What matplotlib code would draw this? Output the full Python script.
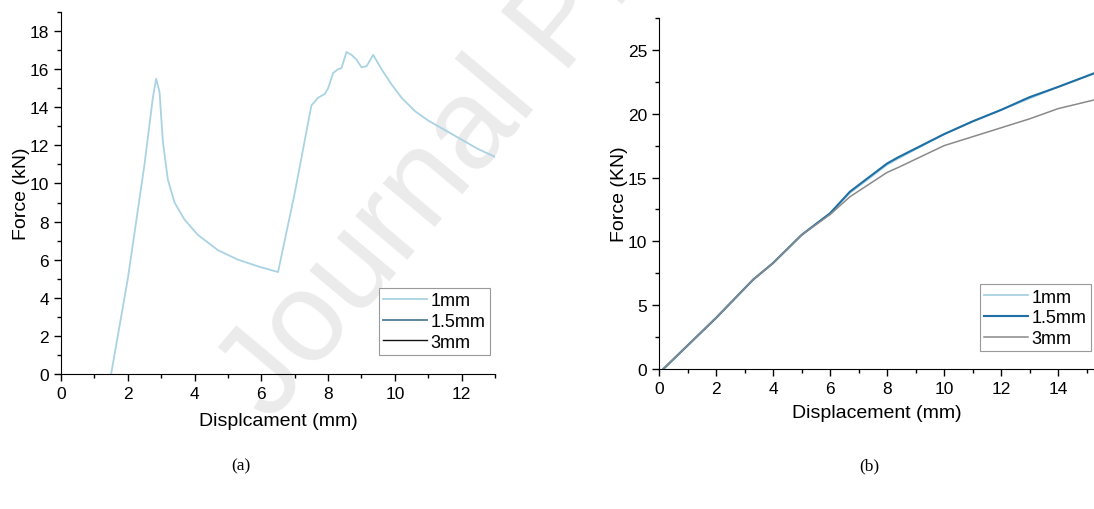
import numpy as np
import matplotlib.pyplot as plt
from matplotlib.ticker import MultipleLocator, AutoMinorLocator

plt.rcParams['font.family'] = ['Liberation Sans', 'DejaVu Sans']

# (a) force-displacement, only the 1mm curve is visible
disp_a = [1.5, 2.0, 2.5, 2.75, 2.85, 2.95, 3.05, 3.2, 3.4, 3.7, 4.1, 4.7, 5.3, 5.9, 6.5,
          7.0, 7.5, 7.7, 7.9, 8.0, 8.15, 8.3, 8.4, 8.55, 8.7, 8.85, 9.0, 9.15, 9.35,
          9.6, 9.9, 10.2, 10.6, 11.0, 11.5, 12.0, 12.5, 13.0]
force_a = [0.0, 5.0, 11.0, 14.5, 15.5, 14.8, 12.2, 10.2, 9.0, 8.1, 7.3, 6.5, 6.0, 5.65, 5.35,
           9.5, 14.1, 14.5, 14.7, 15.0, 15.8, 16.0, 16.05, 16.9, 16.75, 16.5, 16.1, 16.15, 16.75,
           16.0, 15.2, 14.5, 13.8, 13.3, 12.8, 12.3, 11.8, 11.4]

# (b) force-displacement for the three thicknesses
disp_b = [0.15, 2.0, 3.3, 4.0, 5.0, 6.0, 6.7, 8.0, 8.4, 10.0, 11.0, 12.0, 13.0, 14.0, 15.3]
force_1mm = [0.0, 4.0, 7.0, 8.3, 10.5, 12.2, 13.8, 16.0, 16.5, 18.4, 19.4, 20.3, 21.2, 22.1, 23.2]
force_15mm = [0.0, 4.0, 7.0, 8.3, 10.5, 12.2, 13.9, 16.1, 16.6, 18.4, 19.4, 20.3, 21.3, 22.1, 23.2]
force_3mm = [0.0, 4.0, 7.0, 8.3, 10.5, 12.1, 13.5, 15.4, 15.8, 17.5, 18.2, 18.9, 19.6, 20.4, 21.1]

labels = ['1mm', '1.5mm', '3mm']
colors_a = ['#a9d3e3', '#4f7d98', '#111111']
colors_b = ['#a9d3e3', '#1f6fa5', '#8a8a8a']

fig = plt.figure(figsize=(10.94, 5.10), dpi=100)

ax1 = fig.add_axes([0.0558, 0.2647, 0.3967, 0.7098])
ax2 = fig.add_axes([0.6024, 0.2745, 0.3976, 0.6882])

ax1.plot(disp_a, force_a, color=colors_a[0], lw=1.3, label=labels[0])
ax1.plot([], [], color=colors_a[1], lw=1.3, label=labels[1])
ax1.plot([], [], color=colors_a[2], lw=1.0, label=labels[2])
ax1.set_xlim(0, 13)
ax1.set_ylim(0, 19)
ax1.xaxis.set_major_locator(MultipleLocator(2))
ax1.yaxis.set_major_locator(MultipleLocator(2))
ax1.set_xlabel('Displcament (mm)', fontsize=14, labelpad=8)
ax1.set_ylabel('Force (kN)', fontsize=14, labelpad=0)

ax2.plot(disp_b, force_1mm, color=colors_b[0], lw=1.3, label=labels[0])
ax2.plot(disp_b, force_15mm, color=colors_b[1], lw=1.5, label=labels[1])
ax2.plot(disp_b, force_3mm, color=colors_b[2], lw=1.1, label=labels[2])
ax2.set_xlim(0, 15.26)
ax2.set_ylim(0, 27.5)
ax2.xaxis.set_major_locator(MultipleLocator(2))
ax2.yaxis.set_major_locator(MultipleLocator(5))
ax2.set_xlabel('Displacement (mm)', fontsize=14, labelpad=6)
ax2.set_ylabel('Force (KN)', fontsize=14, labelpad=0)

anchors = {ax1: (0.988, 0.052), ax2: (0.992, 0.05)}
for ax in (ax1, ax2):
    ax.spines['top'].set_visible(False)
    ax.spines['right'].set_visible(False)
    ax.xaxis.set_minor_locator(AutoMinorLocator(2))
    ax.yaxis.set_minor_locator(AutoMinorLocator(2))
    ax.tick_params(which='major', direction='out', length=5, width=1, labelsize=12.5)
    ax.tick_params(which='minor', direction='out', length=3, width=1)
    ax.patch.set_alpha(0)
    leg = ax.legend(loc='lower right', bbox_to_anchor=anchors[ax], fontsize=13,
                    handlelength=2.4, fancybox=False, framealpha=1, edgecolor='#999999',
                    borderpad=0.25, labelspacing=0.2, handletextpad=0.2, borderaxespad=0)
    leg.get_frame().set_linewidth(0.8)

fig.text(0.22, 0.078, '(a)', fontsize=12.5, family='Liberation Serif', ha='center')
fig.text(0.795, 0.078, '(b)', fontsize=12.5, family='Liberation Serif', ha='center')

# watermark
fig.text(0.247, 0.17, 'Journal Pre-proof', fontsize=92, color='#ebebeb', rotation=50,
         rotation_mode='anchor', ha='left', va='baseline', zorder=-10)

fig.savefig('out.png', dpi=100)
